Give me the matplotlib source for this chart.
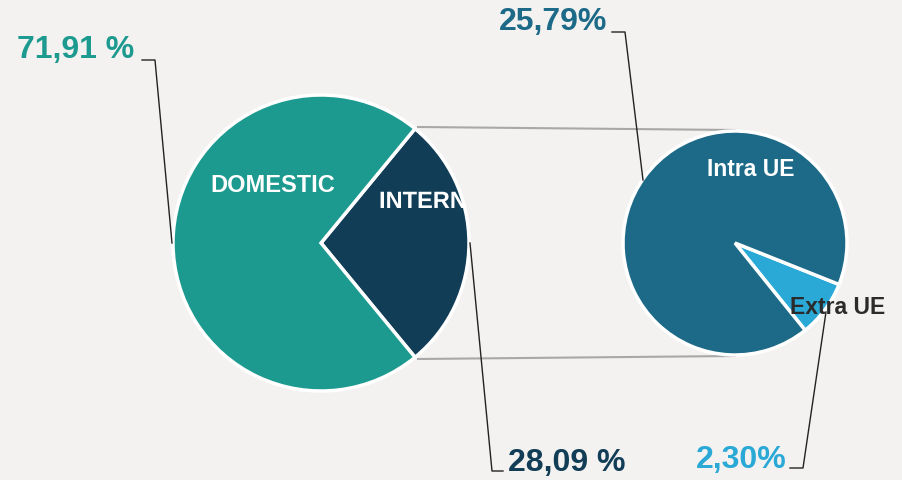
import matplotlib
from matplotlib import pyplot as plt
from matplotlib.textpath import TextPath
from matplotlib.patches import PathPatch
from matplotlib.font_manager import FontProperties
from matplotlib.transforms import Affine2D

matplotlib.rcParams['font.family'] = ['Liberation Sans', 'DejaVu Sans']
matplotlib.rcParams['font.weight'] = 'bold'

# data
main_labels = ['INTERNATIONAL', 'DOMESTIC']
main_values = [28.09, 71.91]
main_texts = ['28,09 %', '71,91 %']
sub_labels = ['Extra UE', 'Intra UE']
sub_values = [2.30, 25.79]
sub_texts = ['2,30%', '25,79%']

bg = '#F3F2F0'
c_dom = '#1D9A8F'
c_int = '#113D57'
c_intra = '#1C6A88'
c_extra = '#2AA8D6'

W, H = 902, 480


def Y(y):
    # pixel row (from top) -> data y
    return H - y


fig = plt.figure(figsize=(9.02, 4.8), dpi=100, facecolor=bg)
ax = fig.add_axes([0, 0, 1, 1])
ax.set_facecolor(bg)

# left pie
wl, _ = ax.pie(main_values, colors=[c_int, c_dom], startangle=-50.55,
               center=(321, Y(243)), radius=148,
               wedgeprops=dict(edgecolor='white', linewidth=2.5))
# right pie
ax.pie(sub_values, colors=[c_extra, c_intra], startangle=-51.2,
       center=(735, Y(243)), radius=112,
       wedgeprops=dict(edgecolor='white', linewidth=2.5, zorder=3))

ax.set_xlim(0, W)
ax.set_ylim(0, H)
ax.set_aspect('auto')
ax.axis('off')

# grey connectors between pies
ax.plot([418, 735], [Y(127), Y(130)], color='#A8A8A8', lw=1.5, zorder=0)
ax.plot([418, 735], [Y(359), Y(356)], color='#A8A8A8', lw=1.5, zorder=0)

# leader lines
lk = dict(color='#222222', lw=1, zorder=4)
ax.plot([142, 155, 172], [Y(60), Y(60), Y(243)], **lk)
ax.plot([470, 492, 503], [Y(243), Y(471), Y(471)], **lk)
ax.plot([612, 625, 643], [Y(32), Y(32), Y(180)], **lk)
ax.plot([826, 803, 790], [Y(312), Y(468), Y(468)], **lk)

# value labels
ax.text(76, Y(50), main_texts[1], color=c_dom, fontsize=23, ha='center', va='center')
ax.text(508, Y(463), main_texts[0], color=c_int, fontsize=23, ha='left', va='center')
ax.text(553, Y(22), sub_texts[1], color=c_intra, fontsize=23, ha='center', va='center')
ax.text(741, Y(460), sub_texts[0], color=c_extra, fontsize=23, ha='center', va='center')

# category labels
ax.text(273, Y(186), main_labels[1], color='white', fontsize=17, ha='center', va='center', zorder=5)
# the international label is cut off by its wedge -> draw it as a path clipped to the wedge
fp = FontProperties(family='Liberation Sans', weight='bold', size=17)
tp = TextPath((0, 0), main_labels[0], prop=fp)
tr = Affine2D().scale(100 / 72).translate(379, Y(208)) + ax.transData
pp = PathPatch(tp, facecolor='white', edgecolor='none', transform=tr, zorder=5)
ax.add_patch(pp)
pp.set_clip_path(wl[0])
ax.text(751, Y(170), sub_labels[1], color='white', fontsize=16.5, ha='center', va='center', zorder=5)
ax.text(838, Y(307), sub_labels[0], color='#2B2B2B', fontsize=16.5, ha='center', va='center', zorder=5)

fig.savefig('out.png', dpi=100, facecolor=bg)
